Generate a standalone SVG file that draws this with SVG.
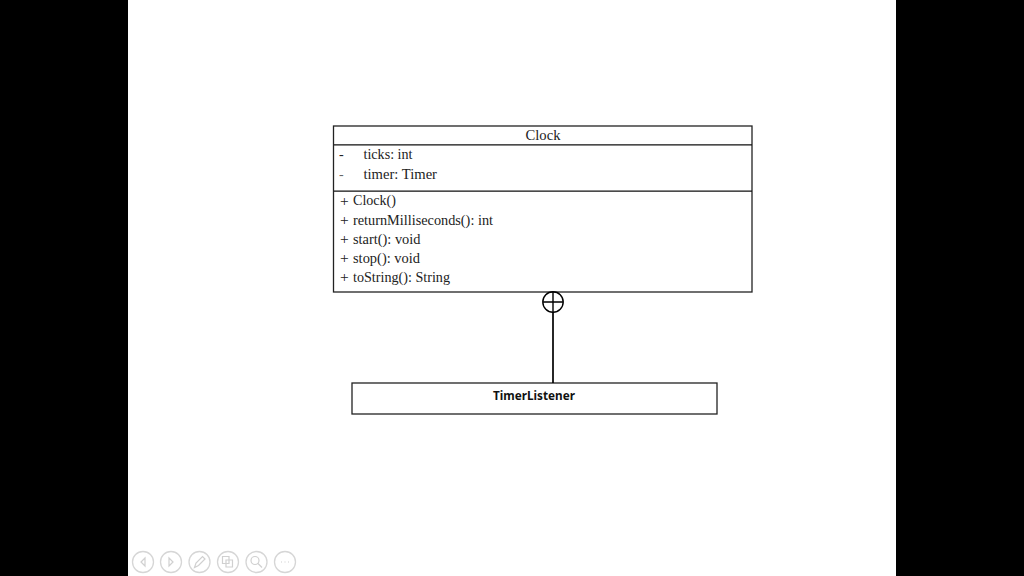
<svg xmlns="http://www.w3.org/2000/svg" width="1024" height="576" viewBox="0 0 1024 576">
<style>
.box{fill:#fff;stroke:#222;stroke-width:1.3}
.div{stroke:#111;stroke-width:1.2;fill:none}
.t{font-family:"Liberation Serif",serif;font-size:14px;fill:#222}
.p{font-size:15.500px}
.b{font-family:"Noto Sans","Open Sans","Liberation Sans",sans-serif;font-size:12.500px;font-weight:700;fill:#111}
.ctl{fill:#fff;stroke:#d6d6d6;stroke-width:1.3}
.ic{fill:none;stroke:#d0d0d0;stroke-width:1.2}
</style>
<rect x="0" y="0" width="128" height="576" fill="#000"/>
<rect x="896" y="0" width="128" height="576" fill="#000"/>
<rect x="128" y="0" width="768" height="576" fill="#fff"/>
<g id="clock">
<rect class="box" x="333.500" y="126" width="418.500" height="166"/>
<path class="div" d="M334 144.800H752M334 191.200H752"/>
<text class="t" x="543" y="140" text-anchor="middle" textLength="35" lengthAdjust="spacingAndGlyphs">Clock</text>
<text class="t" x="339" y="159">-</text>
<text class="t" x="363.500" y="159" textLength="49" lengthAdjust="spacingAndGlyphs">ticks: int</text>
<text class="t" x="339" y="178.500" fill-opacity="0.7">-</text>
<text class="t" x="363.500" y="178.500" textLength="73.500" lengthAdjust="spacingAndGlyphs">timer: Timer</text>
<text class="t p" x="340" y="205.500">+</text>
<text class="t" x="353" y="205" textLength="43" lengthAdjust="spacingAndGlyphs">Clock()</text>
<text class="t p" x="340" y="224.500">+</text>
<text class="t" x="353" y="224.500" textLength="140" lengthAdjust="spacingAndGlyphs">returnMilliseconds(): int</text>
<text class="t p" x="340" y="243.500">+</text>
<text class="t" x="353" y="243.500" textLength="67.500" lengthAdjust="spacingAndGlyphs">start(): void</text>
<text class="t p" x="340" y="262.500">+</text>
<text class="t" x="353" y="262.500" textLength="67" lengthAdjust="spacingAndGlyphs">stop(): void</text>
<text class="t p" x="340" y="282">+</text>
<text class="t" x="353" y="282" textLength="97" lengthAdjust="spacingAndGlyphs">toString(): String</text>
</g>
<g id="timerlistener">
<rect class="box" x="352" y="383" width="365" height="31"/>
<text class="b" x="534" y="400" text-anchor="middle" textLength="82" lengthAdjust="spacingAndGlyphs">TimerListener</text>
</g>
<g id="connectors" fill="none" stroke="#000" stroke-width="1.4">
<path d="M553 312V383" stroke-width="1.7"/>
<circle cx="553" cy="302" r="10.200"/>
<path d="M553 292V312M543 302H563"/>
</g>
<g id="controls">
<circle class="ctl" cx="143" cy="562" r="10.500"/>
<path class="ic" d="M145 558L141 562L145 566Z"/>
<circle class="ctl" cx="171" cy="562" r="10.500"/>
<path class="ic" d="M169 558L173 562L169 566Z"/>
<circle class="ctl" cx="199.500" cy="562" r="10.500"/>
<path class="ic" d="M194.500 567.500L196 563L202.500 556.500L205 559L198.500 565.500Z"/>
<circle class="ctl" cx="228" cy="562" r="10.500"/>
<path class="ic" d="M222.500 556.500H229V560H232.500V567H226V563.500H222.500ZM226 560H229V563.500H226Z"/>
<circle class="ctl" cx="256.500" cy="562" r="10.500"/>
<circle class="ic" cx="255" cy="560.500" r="4"/>
<path class="ic" d="M258 563.500L262 567.500"/>
<circle class="ctl" cx="285" cy="562" r="10.500"/>
<path class="ic" d="M281 562h1M284.500 562h1M288 562h1" stroke-width="1.800"/>
</g>
</svg>
